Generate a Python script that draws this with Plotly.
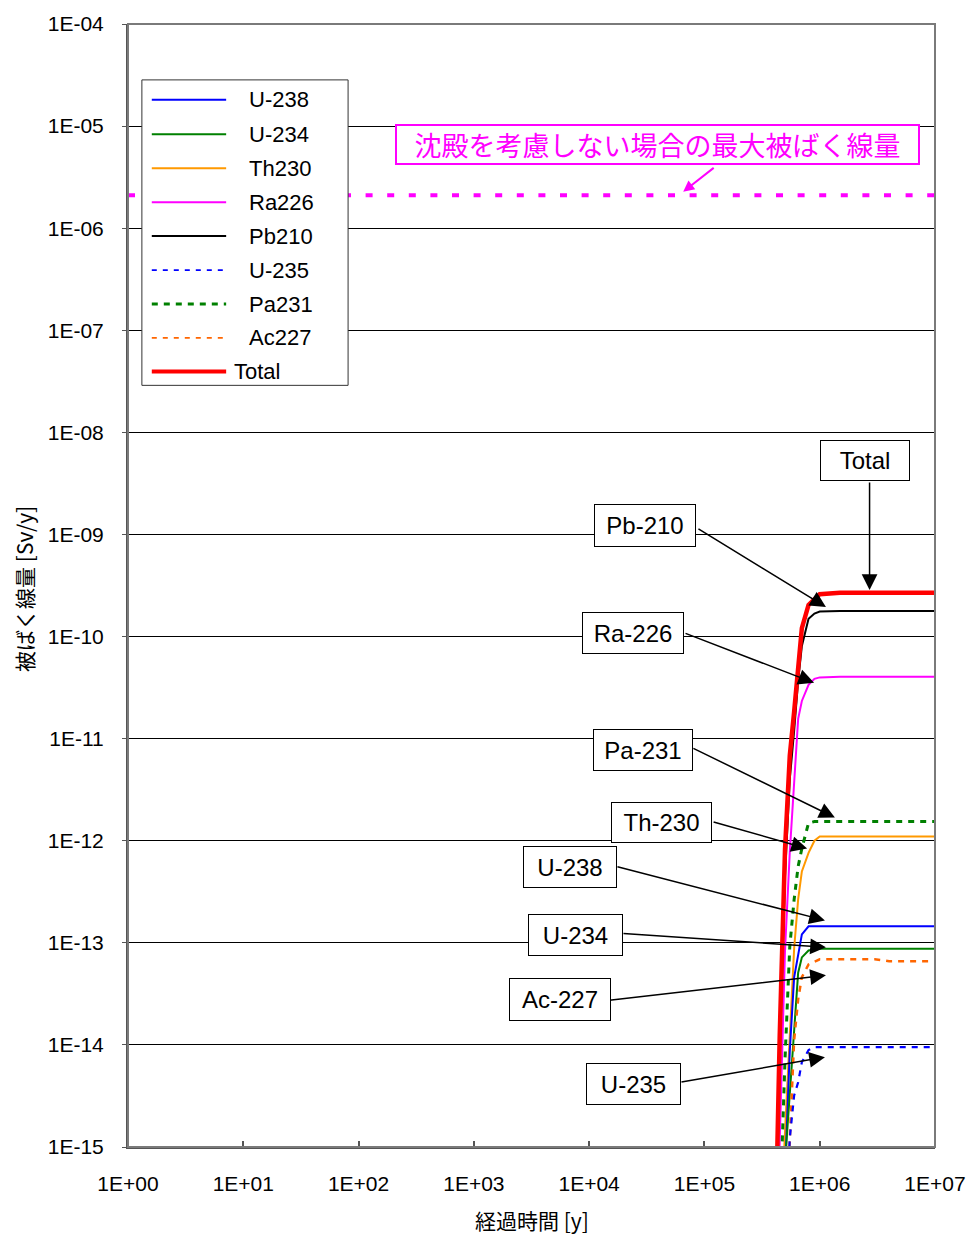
import plotly.graph_objects as go

# ---- data -------------------------------------------------------------
# elapsed time [y]
time_y = [4e5, 4.5e5, 5e5, 5.5e5, 6e5, 6.5e5, 7e5, 8e5, 9e5, 1e6, 1.5e6, 2e6, 3e6, 4e6, 1e7]

# dose rate by nuclide [Sv/y]
u238 = [1e-18, 1e-17, 5.4e-16, 8.7e-15, 4.6e-14, 8.0e-14, 1.21e-13, 1.45e-13, 1.45e-13,
        1.45e-13, 1.45e-13, 1.45e-13, 1.45e-13, 1.45e-13, 1.45e-13]
u234 = [1e-18, 1e-17, 7.0e-16, 3.1e-15, 1.19e-14, 5.1e-14, 7.2e-14, 8.4e-14, 8.6e-14,
        8.75e-14, 8.75e-14, 8.75e-14, 8.75e-14, 8.75e-14, 8.75e-14]
th230 = [1e-18, 1e-16, 1.4e-15, 1.43e-14, 8.8e-14, 2.66e-13, 5.0e-13, 7.6e-13, 1.0e-12,
         1.10e-12, 1.10e-12, 1.10e-12, 1.10e-12, 1.10e-12, 1.10e-12]
ra226 = [1e-17, 9e-16, 8.4e-14, 7.7e-13, 4.3e-12, 1.56e-11, 2.34e-11, 3.36e-11, 3.85e-11,
         3.98e-11, 4.03e-11, 4.03e-11, 4.03e-11, 4.03e-11, 4.03e-11]
pb210 = [1e-17, 6e-15, 4.5e-13, 4.0e-12, 1.2e-11, 3.7e-11, 8.1e-11, 1.49e-10, 1.68e-10,
         1.76e-10, 1.78e-10, 1.78e-10, 1.78e-10, 1.78e-10, 1.78e-10]
u235 = [1e-18, 1e-18, 1e-16, 1.22e-15, 3.2e-15, 4.3e-15, 6.8e-15, 8.9e-15, 9.5e-15,
        9.5e-15, 9.5e-15, 9.5e-15, 9.5e-15, 9.5e-15, 9.5e-15]
pa231 = [1e-18, 2e-16, 7.2e-15, 9.2e-14, 2.66e-13, 5.6e-13, 8.4e-13, 1.49e-12, 1.54e-12,
         1.54e-12, 1.54e-12, 1.54e-12, 1.54e-12, 1.54e-12, 1.54e-12]
ac227 = [1e-18, 1e-18, 1e-16, 1.22e-15, 1.11e-14, 2.8e-14, 4.6e-14, 6.15e-14, 6.6e-14,
         6.9e-14, 6.9e-14, 6.9e-14, 6.9e-14, 6.6e-14, 6.6e-14]
total = [2.5e-17, 1.24e-14, 8.2e-13, 6.8e-12, 1.83e-11, 4.7e-11, 1.21e-10, 2.04e-10, 2.33e-10,
         2.60e-10, 2.69e-10, 2.69e-10, 2.69e-10, 2.69e-10, 2.69e-10]

# maximum dose without precipitation [Sv/y]
max_dose_time = [1e0, 1e7]
max_dose = [2.1e-6, 2.1e-6]

series_names = ["U-238", "U-234", "Th230", "Ra226", "Pb210", "U-235", "Pa231", "Ac227", "Total"]
series_values = [u238, u234, th230, ra226, pb210, u235, pa231, ac227, total]

x_tickvals = [1e0, 1e1, 1e2, 1e3, 1e4, 1e5, 1e6, 1e7]
x_ticktext = ["1E+00", "1E+01", "1E+02", "1E+03", "1E+04", "1E+05", "1E+06", "1E+07"]
y_tickvals = [1e-4, 1e-5, 1e-6, 1e-7, 1e-8, 1e-9, 1e-10, 1e-11, 1e-12, 1e-13, 1e-14, 1e-15]
y_ticktext = ["1E-04", "1E-05", "1E-06", "1E-07", "1E-08", "1E-09", "1E-10",
              "1E-11", "1E-12", "1E-13", "1E-14", "1E-15"]

callout_labels = ["Total", "Pb-210", "Ra-226", "Pa-231", "Th-230", "U-238", "U-234", "Ac-227", "U-235"]
max_dose_label = "沈殿を考慮しない場合の最大被ばく線量"

# ---- styles -----------------------------------------------------------
styles = [
    dict(color="#0000FF", width=2, dash="solid"),
    dict(color="#008000", width=2, dash="solid"),
    dict(color="#FF9900", width=2, dash="solid"),
    dict(color="#FF00FF", width=2, dash="solid"),
    dict(color="#000000", width=2, dash="solid"),
    dict(color="#0000FF", width=2.2, dash="6px,6px"),
    dict(color="#008000", width=3, dash="6px,6px"),
    dict(color="#FF6600", width=2.5, dash="6px,6px"),
    dict(color="#FF0000", width=4.5, dash="solid"),
]
legend_styles = [
    dict(color="#0000FF", width=2, dash="solid"),
    dict(color="#008000", width=2, dash="solid"),
    dict(color="#FF9900", width=2, dash="solid"),
    dict(color="#FF00FF", width=2, dash="solid"),
    dict(color="#000000", width=2, dash="solid"),
    dict(color="#0000FF", width=1.8, dash="5px,6px"),
    dict(color="#008000", width=3, dash="6px,6px"),
    dict(color="#FF6600", width=1.8, dash="5px,6px"),
    dict(color="#FF0000", width=4, dash="solid"),
]

W, H = 978, 1236
# plot area spans x 128..942 and y 22..1147 on the page
ML, MR, MT, MB = 128, 36, 22, 89
X0, X1, Y0, Y1 = ML, W - MR, MT, H - MB


def fx(px):
    return (px - X0) / (X1 - X0)


def fy(py):
    return (Y1 - py) / (Y1 - Y0)


LATIN = "Liberation Sans, Arial, sans-serif"
CJK = "Noto Sans CJK JP, sans-serif"

fig = go.Figure()

fig.add_trace(go.Scatter(
    x=max_dose_time, y=max_dose, mode="lines", showlegend=False,
    line=dict(color="#FF00FF", width=4, dash="7px,14.6px"),
))

# draw order: thin lines first, total on top
order = [4, 3, 2, 0, 1, 6, 7, 5, 8]
for i in order:
    fig.add_trace(go.Scatter(
        x=time_y, y=series_values[i], mode="lines", name=series_names[i],
        showlegend=False, line=styles[i],
    ))

shapes = []
annotations = []

# plot-area frame
shapes.append(dict(type="rect", xref="paper", yref="paper", x0=0, x1=1, y0=0, y1=1,
                   line=dict(color="#7a7a7a", width=2), layer="above"))

# legend box
leg_left, leg_top, leg_right, leg_bottom = 142, 78, 350, 384
shapes.append(dict(type="rect", xref="paper", yref="paper",
                   x0=fx(leg_left), x1=fx(leg_right), y0=fy(leg_bottom), y1=fy(leg_top),
                   line=dict(color="#333333", width=1), fillcolor="white", layer="above"))
row_y = [98, 132.5, 166.5, 200.5, 234.5, 268.5, 302.5, 336.5, 370]
for i, name in enumerate(series_names):
    shapes.append(dict(type="line", xref="paper", yref="paper",
                       x0=fx(152), x1=fx(227), y0=fy(row_y[i]), y1=fy(row_y[i]),
                       line=legend_styles[i], layer="above"))
    tx = 233 if name == "Total" else 248
    annotations.append(dict(xref="paper", yref="paper", x=fx(tx), y=fy(row_y[i]),
                            xanchor="left", yanchor="middle", showarrow=False,
                            text=name, font=dict(family=LATIN, size=22, color="black")))

# callout boxes (centre x, centre y, width, height)
callout_boxes = [
    (871.5, 459, 90, 41),
    (649, 524, 102, 43),
    (637, 632, 102, 42),
    (647, 749, 100, 42),
    (666.5, 821.5, 101, 41),
    (574, 867, 94, 42),
    (579.5, 935, 95, 42),
    (563.5, 999.5, 102, 43),
    (637.5, 1084, 95, 42),
]
# arrows (tail x, tail y, head x, head y)
callout_arrows = [
    (876, 480, 876, 589),
    (703, 527, 832, 606),
    (690, 632, 820, 682),
    (698, 747, 841, 817),
    (718, 821, 813, 848),
    (622, 866, 831, 920),
    (628, 933, 832, 947),
    (614, 1000, 832, 975),
    (686, 1082, 831, 1057),
]
for (tx0, ty0, hx, hy) in callout_arrows:
    annotations.append(dict(xref="paper", yref="paper", x=fx(hx), y=fy(hy),
                            ax=tx0 - hx, ay=ty0 - hy, text="", showarrow=True,
                            arrowhead=2, arrowsize=2.1, arrowwidth=1.5, arrowcolor="black"))
for label, (cx, cy, bw, bh) in zip(callout_labels, callout_boxes):
    annotations.append(dict(xref="paper", yref="paper", x=fx(cx), y=fy(cy),
                            xanchor="center", yanchor="middle", showarrow=False,
                            text=label, width=bw - 6, height=bh - 6, borderpad=2,
                            bordercolor="black", borderwidth=1, bgcolor="white",
                            font=dict(family=LATIN, size=24, color="black")))

# maximum-dose callout
annotations.append(dict(xref="paper", yref="paper", x=fx(688), y=fy(190),
                        ax=720 - 688, ay=165 - 190, text="", showarrow=True,
                        arrowhead=2, arrowsize=1.1, arrowwidth=2, arrowcolor="#FF00FF"))
annotations.append(dict(xref="paper", yref="paper", x=fx(662.5), y=fy(142.5),
                        xanchor="center", yanchor="middle", showarrow=False,
                        text=max_dose_label, width=525 - 8, height=41 - 8, borderpad=2,
                        bordercolor="#FF00FF", borderwidth=2, bgcolor="white",
                        font=dict(family=CJK, size=27, color="#FF00FF")))

# axis titles
annotations.append(dict(xref="paper", yref="paper", x=fx(535), y=fy(1220),
                        xanchor="center", yanchor="middle", showarrow=False,
                        text="経過時間 [y]", font=dict(family=CJK, size=21, color="black")))
annotations.append(dict(xref="paper", yref="paper", x=fx(23), y=fy(588),
                        xanchor="center", yanchor="middle", showarrow=False, textangle=-90,
                        text="被ばく線量 [Sv/y]", font=dict(family=CJK, size=21, color="black")))

fig.update_layout(
    width=W, height=H, autosize=False,
    margin=dict(l=ML, r=MR, t=MT, b=MB),
    paper_bgcolor="white", plot_bgcolor="white",
    showlegend=False,
    shapes=shapes, annotations=annotations,
    xaxis=dict(type="log", range=[0, 7], tickvals=x_tickvals, ticktext=x_ticktext,
               showgrid=False, zeroline=False, showline=True, linecolor="#555555", linewidth=2,
               ticks="inside", ticklen=6, tickcolor="#555555", tickwidth=1.5,
               ticklabelstandoff=17,
               tickfont=dict(family=LATIN, size=21, color="black")),
    yaxis=dict(type="log", range=[-15, -4], tickvals=y_tickvals, ticktext=y_ticktext,
               showgrid=True, gridcolor="black", gridwidth=1, zeroline=False,
               showline=True, linecolor="#555555", linewidth=2,
               ticks="outside", ticklen=4, tickcolor="#555555",
               ticklabelstandoff=14,
               tickfont=dict(family=LATIN, size=21, color="black")),
)

fig.write_html("out.html", config={"responsive": False})
